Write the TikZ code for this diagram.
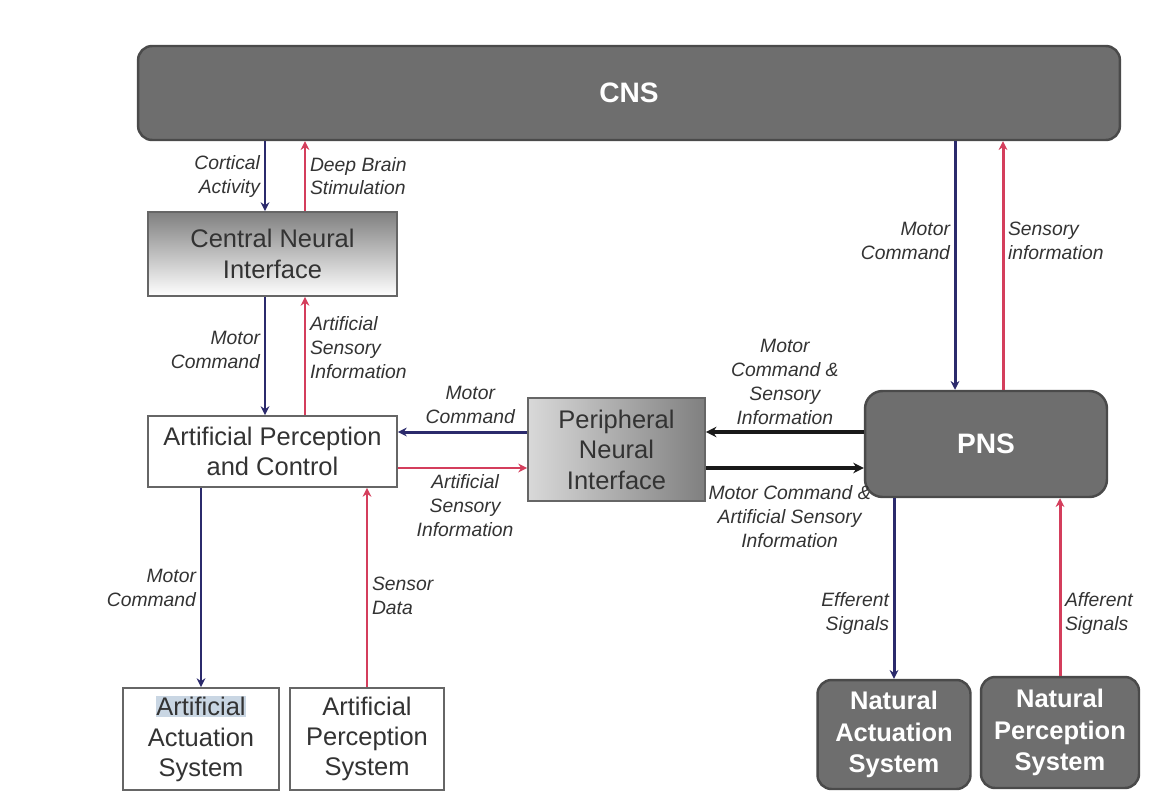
\documentclass[tikz,border=0pt]{standalone}
\usepackage{fontspec}
\setmainfont{Liberation Sans}
\usetikzlibrary{arrows.meta}
\definecolor{motorblue}{HTML}{2B2A6C}
\definecolor{sensered}{HTML}{D43E5C}
\definecolor{boxdark}{HTML}{6E6E6E}
\definecolor{boxedge}{HTML}{4A4A4A}
\definecolor{txtgray}{HTML}{333333}
\definecolor{hilite}{HTML}{C9D6E3}
\setlength{\fboxsep}{0.5pt}
\tikzset{
  darkbox/.style={draw=boxedge, line width=1.4pt, fill=boxdark, rounded corners=8pt,
    text=white, font=\fontsize{14.5}{18}\selectfont\bfseries, align=center, inner sep=0pt},
  lightbox/.style={draw=black!60, line width=1.1pt, fill=white, text=txtgray,
    font=\fontsize{14.5}{17.3}\selectfont, align=center, inner sep=0pt},
  lbl/.style={font=\fontsize{11}{13.6}\selectfont\itshape, text=txtgray, inner sep=1pt},
  motor/.style={draw=motorblue, line width=1.7pt, -{Stealth[length=5pt,width=5pt]}},
  sense/.style={draw=sensered, line width=1.7pt, -{Stealth[length=5pt,width=5pt]}},
  nerve/.style={draw=black!90, line width=2.2pt, -{Stealth[length=6pt,width=6pt]}}
}
\begin{document}
\begin{tikzpicture}[x=0.02cm, y=-0.02cm]
\useasboundingbox (0,0) rectangle (1170,805);

\node[darkbox, minimum width=19.64cm, minimum height=1.88cm, font=\fontsize{16}{18}\selectfont\bfseries] (cns) at (629,93) {CNS};
\node[lightbox, minimum width=4.98cm, minimum height=1.68cm, top color=black!50, bottom color=white] (cni) at (272.5,254) {Central Neural\\Interface};
\node[lightbox, minimum width=4.98cm, minimum height=1.42cm] (apc) at (272.5,451.5) {Artificial Perception\\and Control};
\node[lightbox, minimum width=3.54cm, minimum height=2.06cm, left color=black!15, middle color=white, right color=black!50] (pni) at (616.5,449.5) {Peripheral\\Neural\\Interface};
\node[darkbox, minimum width=4.84cm, minimum height=2.12cm, rounded corners=10pt, font=\fontsize{16}{18}\selectfont\bfseries] (pns) at (986,444) {PNS};
\node[lightbox, minimum width=3.12cm, minimum height=2.04cm] (aas) at (201,739) {\colorbox{hilite}{Artificial}\\Actuation\\System};
\node[lightbox, minimum width=3.08cm, minimum height=2.04cm] (aps) at (367,739) {Artificial\\Perception\\System};
\node[darkbox, minimum width=3.06cm, minimum height=2.18cm] (nas) at (894,734.5) {Natural\\Actuation\\System};
\node[darkbox, minimum width=3.16cm, minimum height=2.22cm] (nps) at (1060,732.5) {Natural\\Perception\\System};

% brain side
\draw[motor] ([xshift=-0.15cm]cni.north |- cns.south) -- node[lbl, left=1pt, align=right] {Cortical\\Activity} ([xshift=-0.15cm]cni.north);
\draw[sense] ([xshift=0.65cm]cni.north) -- node[lbl, right=1pt, align=left] {Deep Brain\\Stimulation} ([xshift=0.65cm]cni.north |- cns.south);
\draw[motor] ([xshift=-0.15cm]cni.south) -- node[lbl, left=1pt, align=right, pos=0.45] {Motor\\Command} ([xshift=-0.15cm]cni.south |- apc.north);
\draw[sense] ([xshift=0.65cm]cni.south |- apc.north) -- node[lbl, right=1pt, align=left, pos=0.57] {Artificial\\Sensory\\Information} ([xshift=0.65cm]cni.south);
\draw[motor] (aas.north |- apc.south) -- node[lbl, left=1pt, align=right] {Motor\\Command} (aas.north);
\draw[sense] (aps.north) -- node[lbl, right=1pt, align=left, pos=0.46] {Sensor\\Data} (aps.north |- apc.south);

% peripheral side
\draw[motor] ([yshift=0.35cm]pni.west) -- node[lbl, above=3pt, align=center, pos=0.44] {Motor\\Command} ([yshift=0.35cm]pni.west -| apc.east);
\draw[sense] ([yshift=-0.37cm]pni.west -| apc.east) -- node[lbl, below=2pt, align=center, pos=0.52] {Artificial\\Sensory\\Information} ([yshift=-0.37cm]pni.west);
\draw[nerve] ([yshift=0.35cm]pni.east -| pns.west) -- node[lbl, above=2pt, align=center] {Motor\\Command \&\\Sensory\\Information} ([yshift=0.35cm]pni.east);
\draw[nerve] ([yshift=-0.37cm]pni.east) -- node[lbl, below=8pt, align=center, pos=0.53] {Motor Command \&\\Artificial Sensory\\Information} ([yshift=-0.37cm]pni.east -| pns.west);
\draw[motor] ([xshift=-0.62cm]pns.north |- cns.south) -- node[lbl, left=1pt, align=right, pos=0.4] {Motor\\Command} ([xshift=-0.62cm]pns.north);
\draw[sense] ([xshift=0.34cm]pns.north) -- node[lbl, right=1pt, align=left, pos=0.6] {Sensory\\information} ([xshift=0.34cm]pns.north |- cns.south);
\draw[motor] (nas.north |- pns.south) -- node[lbl, left=1pt, align=right, pos=0.64] {Efferent\\Signals} (nas.north);
\draw[sense] (nps.north) -- node[lbl, right=1pt, align=left, pos=0.35] {Afferent\\Signals} (nps.north |- pns.south);
\end{tikzpicture}
\end{document}
